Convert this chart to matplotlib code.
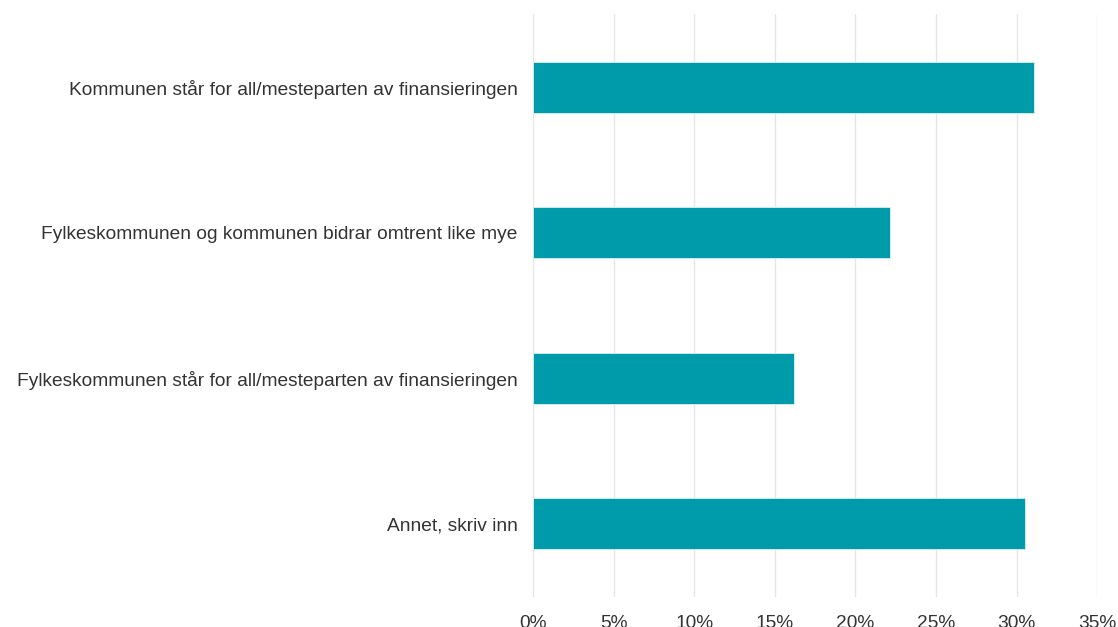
import matplotlib.pyplot as plt
from matplotlib.ticker import PercentFormatter

categories = [
    "Kommunen står for all/mesteparten av finansieringen",
    "Fylkeskommunen og kommunen bidrar omtrent like mye",
    "Fylkeskommunen står for all/mesteparten av finansieringen",
    "Annet, skriv inn",
]
shares = [31.1, 22.15, 16.2, 30.5]
xticks = [0, 5, 10, 15, 20, 25, 30, 35]

plt.rcParams["font.family"] = ["Liberation Sans", "DejaVu Sans"]

fig = plt.figure(figsize=(11.18, 6.27), dpi=100)
ax = fig.add_axes([0.4767, 0.0482, 0.5047, 0.9291])

pos = list(range(len(categories)))
ax.barh(pos, shares, height=0.35, color="#009baa", edgecolor="#d9f0f2", linewidth=0.6, zorder=3)

ax.set_ylim(len(categories) - 0.5, -0.5)
ax.set_xlim(0, 35)
ax.set_xticks(xticks)
ax.xaxis.set_major_formatter(PercentFormatter(decimals=0))
ax.set_yticks(pos)
ax.set_yticklabels(categories)

ax.grid(axis="x", color="#e6e6e6", linewidth=1, zorder=0)
for s in ax.spines.values():
    s.set_visible(False)
ax.tick_params(axis="both", length=0, labelsize=13.8, colors="#333333")
ax.tick_params(axis="y", pad=11)
ax.tick_params(axis="x", pad=13)

fig.savefig("out.png", dpi=100)
